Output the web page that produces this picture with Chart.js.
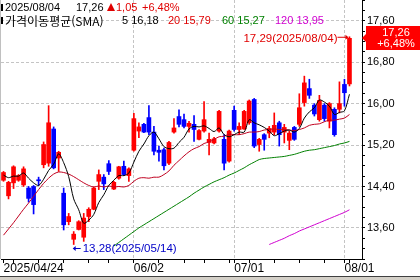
<!DOCTYPE html>
<html lang="ko">
<head>
<meta charset="UTF-8">
<title>가격이동평균(SMA)</title>
<script src="https://cdn.jsdelivr.net/npm/chart.js"></script>
<style>
  html, body { margin: 0; padding: 0; background: #fff; }
</style>
</head>
<body>
<canvas id="stockChart" width="420" height="280"></canvas>
<script>
// trading days shown (US market), 2025/04/24 .. 2025/08/04
const dates = [
  '2025/04/24','2025/04/25','2025/04/28','2025/04/29','2025/04/30',
  '2025/05/01','2025/05/02','2025/05/05','2025/05/06','2025/05/07','2025/05/08','2025/05/09',
  '2025/05/12','2025/05/13','2025/05/14','2025/05/15','2025/05/16','2025/05/19','2025/05/20',
  '2025/05/21','2025/05/22','2025/05/23','2025/05/27','2025/05/28','2025/05/29','2025/05/30',
  '2025/06/02','2025/06/03','2025/06/04','2025/06/05','2025/06/06','2025/06/09','2025/06/10',
  '2025/06/11','2025/06/12','2025/06/13','2025/06/16','2025/06/17','2025/06/18','2025/06/20',
  '2025/06/23','2025/06/24','2025/06/25','2025/06/26','2025/06/27','2025/06/30',
  '2025/07/01','2025/07/02','2025/07/03','2025/07/07','2025/07/08','2025/07/09','2025/07/10',
  '2025/07/11','2025/07/14','2025/07/15','2025/07/16','2025/07/17','2025/07/18','2025/07/21',
  '2025/07/22','2025/07/23','2025/07/24','2025/07/25','2025/07/28','2025/07/29','2025/07/30',
  '2025/07/31','2025/08/01','2025/08/04'
];

const open = [
  14.52,14.22,14.47,14.52,14.43,14.37,14.40,14.53,14.82,14.85,
  15.51,14.95,14.27,13.72,13.38,13.57,13.42,13.82,13.96,14.50,
  14.58,14.84,14.35,14.56,14.79,14.61,15.10,15.47,15.60,15.73,
  15.45,15.10,15.11,14.85,15.45,15.75,15.69,15.56,15.60,15.31,
  15.47,15.25,15.24,15.47,15.31,14.89,15.87,15.50,15.51,15.63,
  16.08,15.21,15.40,15.43,15.45,15.63,15.45,15.29,15.54,15.60,
  16.02,16.29,15.97,15.69,15.97,15.66,15.89,15.89,16.37,16.38
];
const high = [
  14.69,14.50,14.80,14.63,14.78,14.40,14.42,14.58,15.26,15.96,
  15.55,15.08,14.37,13.88,13.53,13.74,13.88,13.99,14.39,14.72,
  14.63,14.90,14.50,14.79,14.89,14.76,15.81,15.63,15.62,15.96,
  15.56,15.18,15.14,15.27,15.71,15.88,15.80,15.66,15.77,15.50,
  16.04,15.43,15.35,15.87,15.40,15.49,15.95,15.63,15.87,16.07,
  16.10,15.33,15.42,15.56,15.82,15.66,15.60,15.47,15.56,16.19,
  16.53,16.47,16.00,16.16,16.00,16.02,15.92,16.42,16.47,17.29
];
const low = [
  14.50,14.16,14.36,14.50,14.40,14.10,13.87,14.42,14.76,14.79,
  14.74,14.69,13.56,13.66,13.28,13.56,13.34,13.72,13.95,14.34,
  14.34,14.63,14.34,14.54,14.61,14.50,15.08,15.34,15.44,15.40,
  15.01,14.89,14.72,14.82,15.43,15.55,15.53,15.45,15.27,15.30,
  15.45,15.01,15.22,15.45,14.72,14.87,15.47,15.40,15.50,15.60,
  15.15,15.08,15.10,15.34,15.40,15.18,15.24,15.11,15.29,15.56,
  15.95,16.10,15.76,15.66,15.66,15.53,15.37,15.82,15.95,16.34
];
const close = [
  14.67,14.48,14.78,14.61,14.74,14.17,14.05,14.51,15.21,15.63,
  14.76,15.06,13.66,13.82,13.48,13.72,13.79,13.96,14.37,14.63,
  14.45,14.69,14.48,14.78,14.63,14.74,15.71,15.55,15.45,15.45,
  15.08,15.06,14.80,15.25,15.53,15.60,15.56,15.62,15.50,15.48,
  15.69,15.31,15.32,15.85,14.85,15.47,15.50,15.56,15.85,16.05,
  15.18,15.31,15.31,15.52,15.58,15.40,15.54,15.43,15.31,15.92,
  16.40,16.16,15.80,16.06,15.71,16.00,15.40,16.00,16.21,17.26
];

// moving averages (null = not drawn)
const sma5 = [
  14.62,14.57,14.60,14.60,14.66,14.56,14.47,14.42,14.54,14.71,
  14.83,15.03,14.86,14.59,14.16,13.95,13.69,13.75,13.86,14.09,
  14.24,14.42,14.52,14.61,14.61,14.66,14.87,15.08,15.22,15.38,
  15.45,15.32,15.17,15.13,15.14,15.25,15.35,15.51,15.56,15.55,
  15.57,15.52,15.46,15.53,15.40,15.36,15.40,15.45,15.45,15.69,
  15.63,15.59,15.54,15.47,15.38,15.42,15.47,15.49,15.45,15.52,
  15.72,15.84,15.92,16.07,16.03,15.95,15.79,15.83,15.86,16.18
];
const sma20 = [
  13.46,13.58,13.70,13.83,13.96,14.08,14.21,14.34,14.46,14.56,
  14.64,14.68,14.67,14.64,14.59,14.53,14.47,14.42,14.39,14.41,
  14.39,14.41,14.39,14.40,14.39,14.42,14.50,14.56,14.57,14.56,
  14.58,14.58,14.63,14.70,14.81,14.90,14.99,15.07,15.13,15.17,
  15.23,15.26,15.31,15.36,15.37,15.41,15.40,15.40,15.42,15.45,
  15.45,15.46,15.49,15.50,15.51,15.50,15.50,15.49,15.48,15.50,
  15.53,15.58,15.60,15.61,15.65,15.68,15.68,15.70,15.72,15.79
];
const sma60 = [
  null,null,null,null,null,null,null,null,null,null,
  null,null,null,null,null,null,null,null,null,null,
  null,null,13.25,13.32,13.39,13.46,13.53,13.60,13.66,13.72,
  13.78,13.84,13.90,13.96,14.02,14.08,14.14,14.20,14.27,14.33,
  14.39,14.44,14.49,14.53,14.57,14.62,14.66,14.71,14.76,14.82,
  14.87,14.92,14.94,14.95,14.96,14.97,14.98,15.00,15.02,15.05,
  15.08,15.10,15.11,15.13,15.15,15.17,15.19,15.22,15.24,15.27
];
const sma120 = [
  null,null,null,null,null,null,null,null,null,null,
  null,null,null,null,null,null,null,null,null,null,
  null,null,null,null,null,null,null,null,null,null,
  null,null,null,null,null,null,null,null,null,null,
  null,null,null,null,null,null,null,null,null,null,
  null,null,null,13.28,13.32,13.36,13.40,13.45,13.49,13.54,
  13.58,13.62,13.66,13.70,13.74,13.78,13.82,13.86,13.90,13.95
];

// x axis: labelled ticks, month grid lines, weekly tick marks
const tickIdx = [0, 26, 46, 68];
const tickText = ['2025/04/24', '06/02', '07/01', '08/01'];
const monthIdx = [26, 46, 68];
const weekIdx = [2, 7, 12, 17, 21, 31, 36, 40, 45, 49, 54, 59, 64, 69];

const UP = '#ff0000', DOWN = '#0000ff';
const RED = '#e00000', GREEN = '#008000', MAGENTA = '#d000d0';
const GRID = '#c4c4c4';
const LAT = '"Liberation Sans", Arial, sans-serif';
const KOR = '"Noto Sans CJK KR", "Liberation Sans", sans-serif';

const fmt = v => v.toFixed(2).replace('.', ',');
const labels = dates.concat(['', '']);   // two empty slots right of last candle
const colors = close.map((c, i) => c >= open[i] ? UP : DOWN);

const overlay = {
  id: 'overlay',
  afterDraw(chart) {
    const {ctx, chartArea: a, scales: {x, y}} = chart;
    const n = close.length - 1;
    ctx.save();

    // left border + bottom strip
    ctx.fillStyle = '#c0c0c0';
    ctx.fillRect(0, 0, 1, a.bottom);
    ctx.fillStyle = '#d4d0c8';
    ctx.fillRect(0, 277, 420, 3);
    ctx.fillStyle = '#404040';
    ctx.fillRect(0, 276, 420, 1);

    // header
    ctx.textBaseline = 'middle';
    ctx.textAlign = 'left';
    ctx.fillStyle = '#000';
    ctx.fillRect(1, 4, 2, 7);
    ctx.fillRect(1, 17, 2, 7);
    const chg = close[n] - close[n - 1];
    const pct = chg / close[n - 1] * 100;
    const put = (tx, px, py, col, font) => {
      ctx.font = font || '11px ' + LAT;
      ctx.fillStyle = col;
      ctx.fillText(tx, px, py);
    };
    put(dates[n], 5, 7.5, '#000');
    put(fmt(close[n]), 76, 7.5, '#000');
    ctx.fillStyle = RED;
    ctx.beginPath();
    ctx.moveTo(107, 11); ctx.lineTo(115, 11); ctx.lineTo(111, 3); ctx.closePath();
    ctx.fill();
    put(fmt(chg), 116, 7.5, RED);
    put('+' + fmt(pct) + '%', 142, 7.5, RED);
    put('가격이동평균(SMA)', 5, 21, '#000', '12px ' + KOR);
    put('5 ' + fmt(sma5[n]), 122, 21, '#000');
    put('20 ' + fmt(sma20[n]), 168, 21, RED);
    put('60 ' + fmt(sma60[n]), 222, 21, GREEN);
    put('120 ' + fmt(sma120[n]), 275, 21, MAGENTA);

    // highest / lowest marks
    const hi = Math.max(...high), hiI = high.indexOf(hi);
    const lo = Math.min(...low), loI = low.indexOf(lo);
    let px = x.getPixelForValue(hiI), py = y.getPixelForValue(hi);
    ctx.strokeStyle = RED; ctx.fillStyle = RED; ctx.lineWidth = 1;
    ctx.beginPath(); ctx.moveTo(px - 12, py + 0.5); ctx.lineTo(px - 3, py + 0.5); ctx.stroke();
    ctx.beginPath(); ctx.moveTo(px - 1, py + 0.5); ctx.lineTo(px - 4, py - 2); ctx.lineTo(px - 4, py + 3); ctx.fill();
    ctx.textAlign = 'right';
    put(fmt(hi) + '(' + dates[hiI] + ')', px - 12, py + 2.5, RED, '11.5px ' + LAT);

    px = x.getPixelForValue(loI); py = y.getPixelForValue(lo) + 3.5;
    ctx.strokeStyle = '#0000c8'; ctx.fillStyle = '#0000c8';
    ctx.beginPath(); ctx.moveTo(px, py + 0.5); ctx.lineTo(px + 7, py + 0.5); ctx.stroke();
    ctx.beginPath(); ctx.moveTo(px - 1, py + 0.5); ctx.lineTo(px + 2, py - 2); ctx.lineTo(px + 2, py + 3); ctx.fill();
    ctx.textAlign = 'left';
    put(fmt(lo) + '(' + dates[loI] + ')', px + 9, py + 1, '#0000c8', '11.5px ' + LAT);

    // current price box on the axis
    py = Math.round(y.getPixelForValue(close[n]));
    ctx.fillStyle = '#ff0000';
    ctx.beginPath();
    ctx.moveTo(366, py - 12); ctx.lineTo(420, py - 12); ctx.lineTo(420, py + 12);
    ctx.lineTo(366, py + 12); ctx.lineTo(366, py + 4); ctx.lineTo(362, py);
    ctx.lineTo(366, py - 4); ctx.closePath();
    ctx.fill();
    ctx.textAlign = 'center';
    put(fmt(close[n]), 396, py - 5.5, '#fff');
    put('+' + fmt(pct) + '%', 396, py + 6, '#fff');
    ctx.restore();
  }
};

new Chart(document.getElementById('stockChart'), {
  type: 'bar',
  data: {
    labels: labels,
    datasets: [
      { type: 'line', data: sma5, borderColor: '#000', borderWidth: 1, pointRadius: 0, tension: 0.3 },
      { type: 'line', data: sma20, borderColor: '#c00020', borderWidth: 1, pointRadius: 0, tension: 0.3 },
      { type: 'line', data: sma60, borderColor: GREEN, borderWidth: 1, pointRadius: 0, tension: 0.3 },
      { type: 'line', data: sma120, borderColor: MAGENTA, borderWidth: 1, pointRadius: 0, tension: 0.3 },
      { data: open.map((o, i) => [o, close[i]]), backgroundColor: colors, barThickness: 4,
        grouped: false, minBarLength: 1 },
      { data: low.map((l, i) => [l, high[i]]), backgroundColor: colors, barThickness: 1,
        grouped: false }
    ]
  },
  options: {
    responsive: false,
    animation: false,
    layout: { padding: { left: 1, right: 0, top: 0, bottom: 0 } },
    plugins: { legend: { display: false }, tooltip: { enabled: false } },
    scales: {
      x: {
        offset: true,
        ticks: {
          autoSkip: false, maxRotation: 0, minRotation: 0, align: 'start', padding: -0.5,
          color: '#000', font: { family: LAT, size: 12, lineHeight: 1 },
          callback: (v, i) => { const k = tickIdx.indexOf(i); return k >= 0 ? tickText[k] : ''; }
        },
        grid: {
          offset: false, tickLength: 4,
          color: c => monthIdx.includes(c.index) ? GRID : 'transparent',
          tickColor: c => (tickIdx.includes(c.index) || weekIdx.includes(c.index)) ? '#000' : 'transparent'
        },
        border: { color: '#000', dash: [3, 2] },
        afterFit: s => { s.height = 21; s.paddingLeft = 0; s.paddingRight = 0; }
      },
      y: {
        position: 'right', min: 13.0, max: 18.0,
        ticks: {
          stepSize: 0.2, autoSkip: false, padding: 2, color: '#000',
          font: { family: LAT, size: 11 },
          callback: v => Math.round(v * 10) % 8 === 0 ? fmt(v) : ''
        },
        grid: {
          tickLength: 3, tickColor: '#000',
          color: c => Math.round(c.tick.value * 10) % 8 === 0 ? GRID : 'transparent'
        },
        border: { color: '#000', dash: [3, 2] },
        afterFit: s => { s.width = 58; s.paddingTop = 0; s.paddingBottom = 0; }
      }
    }
  },
  plugins: [overlay]
});
</script>
</body>
</html>
